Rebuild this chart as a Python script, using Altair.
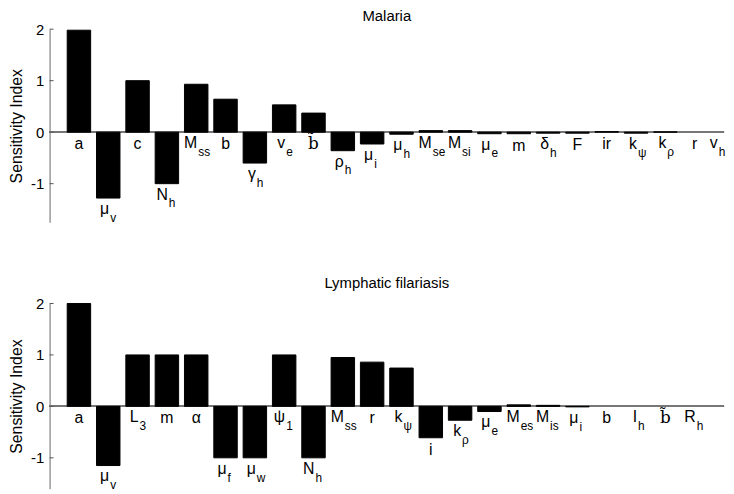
import altair as alt
import pandas as pd

# ---- data ----
top_main = ["a", "μ", "c", "N", "M", "b", "γ", "v", "b̃", "ρ", "μ", "μ", "M", "M",
            "μ", "m", "δ", "F", "ir", "k", "k", "r", "v"]
top_sub = ["", "v", "", "h", "ss", "", "h", "e", "", "h", "i", "h", "se", "si",
           "e", "", "h", "", "", "ψ", "ρ", "", "h"]
top_vals = [1.98, -1.28, 1.0, -1.0, 0.93, 0.64, -0.60, 0.53, 0.37, -0.36, -0.23,
            -0.04, 0.03, 0.03, -0.03, -0.03, -0.02, -0.02, 0.01, -0.02, 0.005, 0.0, 0.0]

bot_main = ["a", "μ", "L", "m", "α", "μ", "μ", "ψ", "N", "M", "r", "k", "i", "k",
            "μ", "M", "M", "μ", "b", "I", "b̃", "R"]
bot_sub = ["", "v", "3", "", "", "f", "w", "1", "h", "ss", "", "ψ", "", "ρ",
           "e", "es", "is", "i", "", "h", "", "h"]
bot_vals = [2.0, -1.15, 1.0, 1.0, 1.0, -1.0, -1.0, 1.0, -1.0, 0.95, 0.86, 0.745,
            -0.61, -0.27, -0.10, 0.03, 0.02, -0.01, 0.0, 0.0, 0.0, 0.0]

tick_values = [-1, 0, 1, 2]
titles = ["Malaria", "Lymphatic filariasis"]
y_title = "Sensitivity Index"

FONT = "Liberation Sans"
W = 681


def panel(main, sub, vals, title, ymin, height, title_offset):
    df = pd.DataFrame({"k": list(range(1, len(vals) + 1)), "v": vals,
                       "main": main, "sub": sub})
    xs = alt.Scale(domain=[0, 23], nice=False, zero=False)
    ys = alt.Scale(domain=[ymin, 2], nice=False, zero=False)
    base = alt.Chart(df).transform_calculate(
        x1="datum.k - 0.4", x2="datum.k + 0.4", ly="min(datum.v, 0)", zero="0",
        lx="min(datum.k, 22.75)"
    )
    yaxis = alt.Axis(
        values=tick_values, labelExpr="'' + datum.value", grid=False, ticks=False,
        domainColor="#666666", domainWidth=1, labelFont=FONT, labelFontSize=15,
        labelColor="black", labelPadding=6, title=y_title, titleFont=FONT,
        titleFontSize=16, titleFontWeight="normal", titleColor="black",
        titlePadding=6,
    )
    zero_line = alt.Chart(df).mark_rule(color="#777777", strokeWidth=1).encode(
        y=alt.datum(0, scale=ys), x=alt.value(0), x2=alt.value(W)
    )
    bars = base.transform_filter("datum.v != 0").mark_rect(
        color="black", stroke="black", strokeWidth=1
    ).encode(
        x=alt.X("x1:Q", scale=xs, axis=None),
        x2="x2:Q",
        y=alt.Y("v:Q", scale=ys, axis=yaxis),
        y2="zero:Q",
    )
    tk = alt.Chart(pd.DataFrame({"t": tick_values})).mark_rule(
        color="#555555", strokeWidth=1
    ).encode(y=alt.Y("t:Q", scale=ys), x=alt.value(0), x2=alt.value(4))
    txt = dict(font=FONT, color="black", baseline="alphabetic")
    plain = base.transform_filter("datum.sub == '' && datum.main != 'b̃'").mark_text(
        fontSize=16, dy=17, **txt
    ).encode(x=alt.X("lx:Q", scale=xs), y=alt.Y("ly:Q", scale=ys), text="main:N")
    tilde = base.transform_filter("datum.main == 'b̃'").mark_text(
        fontSize=17, dy=17, font="DejaVu Serif", color="black", baseline="alphabetic"
    ).encode(x=alt.X("lx:Q", scale=xs), y=alt.Y("ly:Q", scale=ys), text="main:N")
    mainsub = base.transform_filter("datum.sub != ''").mark_text(
        fontSize=16, dy=16, dx=1, align="right", **txt
    ).encode(x=alt.X("lx:Q", scale=xs), y=alt.Y("ly:Q", scale=ys), text="main:N")
    subs = base.transform_filter("datum.sub != ''").mark_text(
        fontSize=12, dy=24, dx=2, align="left", **txt
    ).encode(x=alt.X("lx:Q", scale=xs), y=alt.Y("ly:Q", scale=ys), text="sub:N")
    return alt.layer(zero_line, bars, tk, plain, tilde, mainsub, subs).properties(
        width=W, height=height,
        title=alt.TitleParams(title, font=FONT, fontSize=15, fontWeight="normal",
                              color="black", anchor="middle", offset=title_offset,
                              frame="group"),
    )


top = panel(top_main, top_sub, top_vals, titles[0], -1.75, 195, -1.7)
bot = panel(bot_main, bot_sub, bot_vals, titles[1], -1.6, 187, 5.4)

chart = alt.vconcat(top, bot, spacing=52).properties(
    padding={"top": -2, "left": 0, "right": 0, "bottom": 0}
).configure_view(stroke=None)

chart.save("out.html", embed_options={"renderer": "svg", "actions": False})
